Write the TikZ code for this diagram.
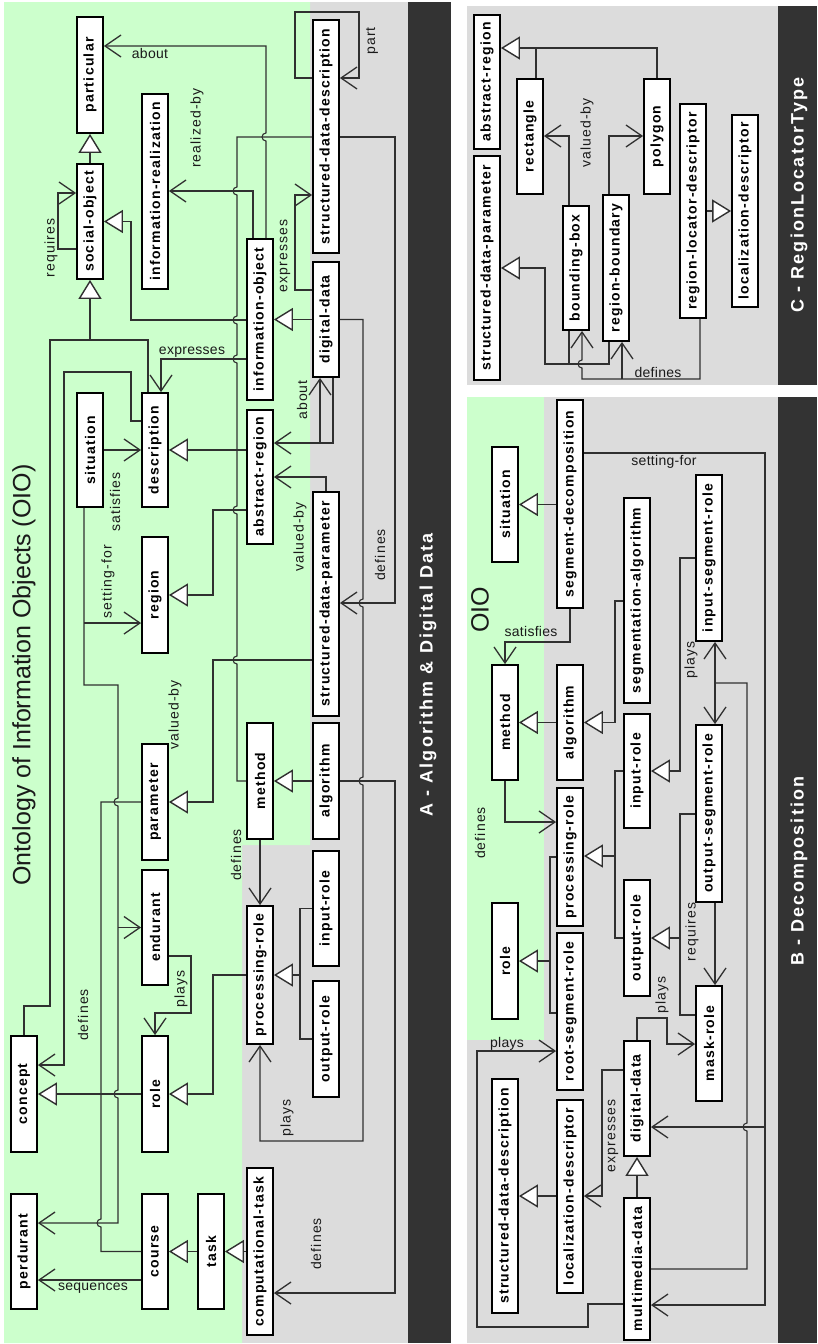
\documentclass[tikz,border=0pt]{standalone}
\usepackage{fontspec}
\setmainfont{Liberation Sans}
\newfontfamily\boxfont{Liberation Sans}[LetterSpace=9]
\newfontfamily\labvfont{Liberation Sans}[LetterSpace=8]
\newfontfamily\labhfont{Liberation Sans}[LetterSpace=2]
\newfontfamily\bandfont{Liberation Sans}[LetterSpace=12]
\usetikzlibrary{arrows.meta}
\definecolor{oiogreen}{HTML}{CCFFCC}
\definecolor{panelgray}{HTML}{DCDCDC}
\definecolor{banddark}{HTML}{333333}
\definecolor{linec}{HTML}{303030}
\definecolor{textc}{HTML}{1A1A1A}
\tikzset{
  box/.style={draw=black, line width=1.8pt, fill=white, inner sep=0pt, minimum width=26pt,
    font=\boxfont\bfseries\fontsize{14pt}{16pt}\selectfont},
  con/.style={draw=linec, line width=1.1pt},
  arr/.style={con, -{Straight Barb[length=16pt,width=22pt,line width=1.3pt]}},
  gen/.style={con, -{Triangle[open,fill=white,length=19pt,width=23pt,line width=1.4pt]}},
  labv/.style={inner sep=0pt, text=textc, rotate=90, font=\labvfont\fontsize{14pt}{16pt}\selectfont},
  labh/.style={inner sep=0pt, text=textc, font=\labhfont\fontsize{14pt}{16pt}\selectfont},
  band/.style={inner sep=0pt, text=white, rotate=90, font=\bandfont\bfseries\fontsize{18pt}{20pt}\selectfont},
  bigtitle/.style={inner sep=0pt, text=textc, rotate=90, font=\fontsize{25pt}{28pt}\selectfont},
}
\newcommand\bx[4]{\node[box, minimum height=#4pt] (#1) at (#2) {\rotatebox{90}{#3}};}
\begin{document}
\begin{tikzpicture}[x=1pt,y=-1pt]
\useasboundingbox (0,0) rectangle (817,1344);
\fill[white] (0,0) rectangle (817,1344);
% ---------- panel backgrounds
\fill[panelgray] (4,2) rectangle (408,1343);
\fill[oiogreen] (4,2) -- (310,2) -- (310,845) -- (242,845) -- (242,1343) -- (4,1343) -- cycle;
\fill[banddark] (408,2) rectangle (451,1343);
\fill[panelgray] (467,6) rectangle (778,385);
\fill[banddark] (778,6) rectangle (817,385);
\fill[panelgray] (467,397) rectangle (778,1343);
\fill[oiogreen] (467,397) rectangle (544,1040);
\fill[banddark] (778,397) rectangle (817,1343);

% ---------- titles
\node[band] (tA) at (428,675) {A - Algorithm \& Digital Data};
\node[band] (tB) at (799,871) {B - Decomposition};
\node[band] (tC) at (799,195) {C - RegionLocatorType};
\node[bigtitle] (tOIO) at (24,675) {Ontology of Information Objects (OIO)};
\node[bigtitle] (tOIOb) at (480,610) {OIO};

% ================= PANEL A nodes
\bx{part}{90,75}{particular}{116}
\bx{so}{90,221.5}{social-object}{115}
\bx{ir}{155,191.5}{information-realization}{195}
\bx{io}{260,319.5}{information-object}{161}
\bx{sddA}{326,136.5}{structured-data-description}{233}
\bx{ddA}{326,319.5}{digital-data}{115}
\bx{sitA}{90,450}{situation}{114}
\bx{desc}{155,450}{description}{114}
\bx{arA}{260,477}{abstract-region}{134}
\bx{reg}{155,595}{region}{116}
\bx{sdpA}{326,604}{structured-data-parameter}{224}
\bx{param}{155,802}{parameter}{116}
\bx{methA}{260,781}{method}{116}
\bx{algA}{326,781}{algorithm}{116}
\bx{irA}{326,908.5}{input-role}{115}
\bx{endu}{155,927.5}{endurant}{115}
\bx{prA}{260,975}{processing-role}{138}
\bx{orA}{326,1039}{output-role}{116}
\bx{conc}{24,1094}{concept}{116}
\bx{roleA}{155,1094}{role}{116}
\bx{perd}{24,1251.5}{perdurant}{115}
\bx{course}{155,1251.5}{course}{115}
\bx{task}{211,1251.5}{task}{115}
\bx{ctask}{260,1251.5}{computational-task}{167}

\coordinate (jA1) at (320,443);
\coordinate (jA2) at (84,623);
\coordinate (jA3) at (118,927.5);
\coordinate (jA4) at (90,340);
\coordinate (jA5) at (300,975);

% ================= PANEL A connectors
\draw[gen] (so.north) -- (part.south);
\draw[arr] (so.west |- 0,249) -- (58,249) -- (58,193) -- (so.west |- 0,193);
\draw[arr] (io.north -| 266,0) -- (266,141) arc[start angle=270,end angle=90,radius=4pt] -- (266,46) -- (part.east |- 0,46);
\draw[con] (sddA.west |- 0,137) -- (237,137)
  -- (237,187) arc[start angle=90,end angle=270,radius=4pt]
  -- (237,316) arc[start angle=90,end angle=270,radius=4pt]
  -- (237,355) arc[start angle=90,end angle=270,radius=4pt]
  -- (237,506) arc[start angle=90,end angle=270,radius=4pt]
  -- (237,656) arc[start angle=90,end angle=270,radius=4pt]
  -- (237,781) -- (methA.west);
\draw[gen, line width=1.6pt] (arA.west |- 0,450) -- (desc.east);
\draw[arr] (sddA.east |- 0,137) -- (395,137) -- (395,603) -- (sdpA.east |- 0,603);
\draw[gen] (ddA.west) -- (io.east);
\draw[gen] (io.west |- 0,320) -- (131,320) -- (131,221.5) -- (so.east);
\draw[arr] (io.north -| 253,0) -- (253,191) -- (ir.east |- 0,191);
\draw[arr] (io.west |- 0,359) -- (161,359) -- (desc.north -| 161,0);
\draw[arr] (ddA.west |- 0,290) -- (295,290) -- (295,195) -- (sddA.west |- 0,195);
\draw[arr] (sddA.west |- 0,78) -- (295,78) -- (295,12) -- (359,12) -- (359,78) -- (sddA.east |- 0,78);
\draw[arr] (ddA.south -| 333,0) -- (333,443) -- (arA.east |- 0,443);
\draw[arr] (jA1) -- (ddA.south -| 320,0);
\draw[gen] (arA.west |- 0,510) -- (213,510) -- (213,595) -- (reg.east);
\draw[arr] (sdpA.north) -- (sdpA.north |- 0,477) -- (arA.east |- 0,477);
\draw[gen] (sdpA.west |- 0,660) -- (213,660) -- (213,802) -- (param.east);
\draw[arr] (sitA.south -| 84,0) -- (84,685) -- (118,685)
  -- (118,798) arc[start angle=90,end angle=270,radius=4pt]
  -- (118,1090) arc[start angle=90,end angle=270,radius=4pt]
  -- (118,1223) -- (perd.east |- 0,1223);
\draw[arr] (jA2) -- (reg.west |- 0,623);
\draw[arr] (jA3) -- (endu.west);
\draw[arr] (sitA.east) -- (desc.west);
\draw[gen] (conc.north) -- (24,1006) -- (50,1006) -- (50,340) -- (90,340) -- (so.south);
\draw[con] (desc.north -| 148,0) -- (148,340) -- (jA4);
\draw[arr] (desc.west |- 0,421) -- (131,421) -- (131,372) -- (64,372) -- (64,1065) -- (conc.east |- 0,1065);
\draw[gen, line width=1.6pt] (roleA.west) -- (conc.east);
\draw[con] (param.west) -- (101,802) -- (101,1219) arc[start angle=90,end angle=270,radius=4pt] -- (101,1251.5) -- (course.west);
\draw[arr] (endu.east |- 0,956) -- (191,956) -- (191,1013) -- (roleA.north |- 0,1013) -- (roleA.north);
\draw[gen] (prA.west) -- (213,975) -- (213,1094) -- (roleA.east);
\draw[gen] (irA.west) -- (300,908.5) -- (300,975) -- (prA.east);
\draw[con] (orA.west) -- (300,1039) -- (jA5);
\draw[arr] (methA.south) -- (prA.north);
\draw[arr] (ddA.east) -- (363,319.5)
  -- (363,599) arc[start angle=90,end angle=270,radius=4pt]
  -- (363,777) arc[start angle=90,end angle=270,radius=4pt]
  -- (363,1141) -- (260,1141) -- (prA.south);
\draw[gen] (algA.west) -- (methA.east);
\draw[arr] (algA.east) -- (395,781) -- (395,1293) -- (ctask.east |- 0,1293);
\draw[gen] (ctask.west) -- (task.east);
\draw[gen] (task.west) -- (course.east);
\draw[arr] (course.west |- 0,1280) -- (perd.east |- 0,1280);

% ---------- panel A labels
\node[labh] (lA1) at (150,53) {about};
\node[labv] (lA2) at (197,128) {realized-by};
\node[labv] (lA3) at (372,41) {part};
\node[labv] (lA4) at (51,248) {requires};
\node[labv] (lA5) at (285,256) {expresses};
\node[labh] (lA6) at (192,352) {expresses};
\node[labv] (lA7) at (302,400) {about};
\node[labv] (lA8) at (115,502) {satisfies};
\node[labv] (lA9) at (108,582) {setting-for};
\node[labv] (lA10) at (300,537) {valued-by};
\node[labv] (lA11) at (380,555) {defines};
\node[labv] (lA12) at (175,715) {valued-by};
\node[labv] (lA13) at (236,855) {defines};
\node[labv] (lA14) at (83,1015) {defines};
\node[labv] (lA15) at (181,989) {plays};
\node[labv] (lA16) at (287,1118) {plays};
\node[labh] (lA17) at (93,1288) {sequences};
\node[labv] (lA18) at (316,1244) {defines};

% ================= PANEL C
\bx{arC}{487,82}{abstract-region}{134}
\bx{sdpC}{487,268}{structured-data-parameter}{224}
\bx{rect}{530,136.5}{rectangle}{115}
\bx{poly}{657,136.5}{polygon}{115}
\bx{bbox}{576,268}{bounding-box}{124}
\bx{rbnd}{616,268}{region-boundary}{146}
\bx{rld}{693,211}{region-locator-descriptor}{214}
\bx{ldC}{745,211}{localization-descriptor}{192}
\coordinate (jC1) at (536,48);
\coordinate (jC2) at (569,364);
\coordinate (jC3) at (622,379);

\draw[gen] (rect.north -| 536,0) -- (536,48) -- (arC.east |- 0,48);
\draw[con] (poly.north) -- (657,48) -- (jC1);
\draw[gen] (bbox.south -| 569,0) -- (569,364) -- (545,364) -- (545,268) -- (sdpC.east);
\draw[con] (rbnd.south -| 609,0) -- (609,364) -- (jC2);
\draw[arr] (bbox.north -| 569,0) -- (569,136) -- (rect.east |- 0,136);
\draw[arr] (rbnd.north -| 609,0) -- (609,136) -- (poly.west |- 0,136);
\draw[gen] (rld.east) -- (ldC.west);
\draw[arr] (rld.south -| 700,0) -- (700,379) -- (582,379) -- (582,368) arc[start angle=270,end angle=90,radius=4pt] -- (bbox.south -| 582,0);
\draw[arr] (jC3) -- (rbnd.south -| 622,0);
\node[labv] (lC1) at (587,133) {valued-by};
\node[labh] (lC2) at (658,372) {defines};

% ================= PANEL B
\bx{sitB}{505,504.5}{situation}{115}
\bx{segd}{570,504}{segment-decomposition}{208}
\bx{sega}{637,600.5}{segmentation-algorithm}{205}
\bx{isr}{709,558}{input-segment-role}{166}
\bx{methB}{505,722.5}{method}{115}
\bx{algB}{570,722.5}{algorithm}{115}
\bx{irB}{637,771}{input-role}{114}
\bx{osr}{709,813.5}{output-segment-role}{177}
\bx{prB}{570,857}{processing-role}{138}
\bx{roleB}{505,961}{role}{116}
\bx{rsr}{570,1011.5}{root-segment-role}{157}
\bx{orB}{637,938}{output-role}{116}
\bx{mask}{709,1043.5}{mask-role}{115}
\bx{sddB}{505,1196}{structured-data-description}{234}
\bx{ldB}{570,1196.5}{localization-descriptor}{193}
\bx{ddB}{637,1098.5}{digital-data}{115}
\bx{mmd}{637,1269}{multimedia-data}{142}
\coordinate (jB1) at (765,1127);
\coordinate (jB2) at (615,856);
\coordinate (jB3) at (680,938);
\coordinate (jB4) at (715,683);
\coordinate (jB5) at (550,961);

\draw[gen] (segd.west |- 0,504.5) -- (sitB.east);
\draw[arr] (segd.south) -- (570,642) -- (505,642) -- (methB.north);
\draw[arr] (segd.east |- 0,453) -- (765,453) -- (765,1305) -- (mmd.east |- 0,1305);
\draw[arr] (jB1) -- (ddB.east |- 0,1127);
\draw[gen] (algB.west) -- (methB.east);
\draw[gen] (sega.west |- 0,601) -- (615,601) -- (615,722.5) -- (algB.east);
\draw[arr] (methB.south) -- (505,822) -- (prB.west |- 0,822);
\draw[gen] (irB.west) -- (615,771) -- (615,856) -- (prB.east |- 0,856);
\draw[con] (orB.west) -- (615,938) -- (jB2);
\draw[gen] (isr.west |- 0,558) -- (680,558) -- (680,771) -- (irB.east);
\draw[gen] (osr.west |- 0,814) -- (680,814) -- (680,938) -- (orB.east);
\draw[con] (jB3) -- (680,1015) -- (mask.west |- 0,1015);
\draw[arr] (osr.south -| 715,0) -- (mask.north -| 715,0);
\draw[arr] (jB4) -- (isr.south -| 715,0);
\draw[arr] (jB4) -- (osr.north -| 715,0);
\draw[con] (mmd.east |- 0,1269) -- (747,1269) -- (747,1131) arc[start angle=270,end angle=90,radius=4pt] -- (747,683) -- (jB4);
\draw[gen] (rsr.west |- 0,1013) -- (550,1013) -- (550,961) -- (roleB.east);
\draw[con] (prB.west) -- (550,857) -- (jB5);
\draw[arr] (mmd.west |- 0,1304) -- (588,1304) -- (588,1327) -- (477,1327) -- (477,1051) -- (rsr.west |- 0,1051);
\draw[arr] (ddB.north) -- (637,1018) -- (667,1018) -- (667,1044) -- (mask.west |- 0,1044);
\draw[arr] (ddB.west |- 0,1070) -- (602,1070) -- (602,1196) -- (ldB.east |- 0,1196);
\draw[gen] (ldB.west |- 0,1196) -- (sddB.east);
\draw[gen] (mmd.north) -- (ddB.south);

\node[labh] (lB1) at (531,631) {satisfies};
\node[labh] (lB2) at (664,462) {setting-for};
\node[labv] (lB3) at (480,833) {defines};
\node[labv] (lB4) at (691,660) {plays};
\node[labv] (lB5) at (692,932) {requires};
\node[labv] (lB6) at (662,995) {plays};
\node[labh] (lB7) at (507,1044) {plays};
\node[labv] (lB8) at (613,1136) {expresses};
\end{tikzpicture}
\end{document}
